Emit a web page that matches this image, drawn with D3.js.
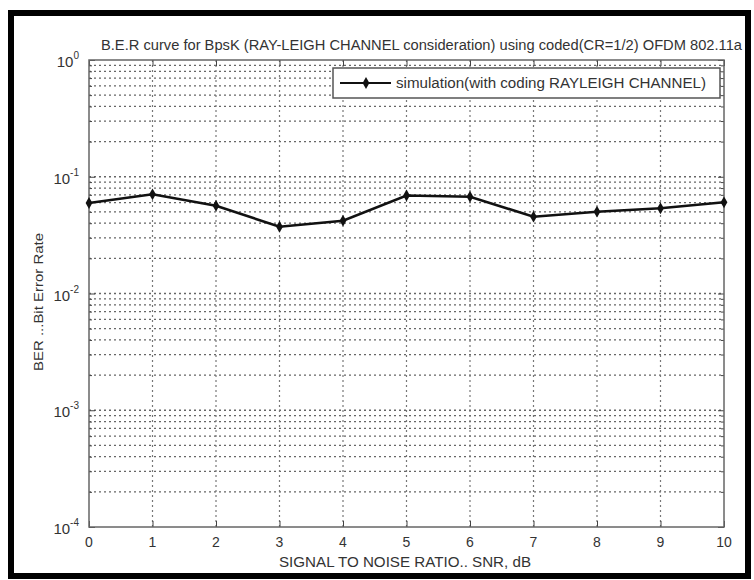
<!DOCTYPE html>
<html>
<head>
<meta charset="utf-8">
<script src="https://cdn.jsdelivr.net/npm/d3@7"></script>
<style>
  body { margin: 0; background: #fff; }
  text { font-family: "Liberation Sans", Arial, sans-serif; fill: #333; }
</style>
</head>
<body>
<svg id="chart" width="754" height="580"></svg>
<script>
// values
const snr = [0, 1, 2, 3, 4, 5, 6, 7, 8, 9, 10]
const ber = [0.0596, 0.0707, 0.0565, 0.0373, 0.0420, 0.0691, 0.0675, 0.0455, 0.0502, 0.0537, 0.0604]
const xTicks = [0, 1, 2, 3, 4, 5, 6, 7, 8, 9, 10]
const yDecades = [0, -1, -2, -3, -4]

const titleText = "B.E.R curve for BpsK (RAY-LEIGH CHANNEL consideration) using coded(CR=1/2) OFDM 802.11a"
const legendText = "simulation(with coding RAYLEIGH CHANNEL)"
const xLabel = "SIGNAL TO NOISE RATIO.. SNR, dB"
const yLabel = "BER ...Bit Error Rate"

const plot = {left: 89, right: 724, top: 60, bottom: 527}

let svg = d3.select("#chart")

// black outer frame
svg.append("rect")
   .attr("x", 11).attr("y", 13)
   .attr("width", 737).attr("height", 563)
   .attr("fill", "none")
   .attr("stroke", "#000")
   .attr("stroke-width", 6)

let x = d3.scaleLinear().domain([0, 10]).range([plot.left, plot.right])
let y = d3.scaleLog().domain([1e-4, 1]).range([plot.bottom, plot.top])

// minor + major values for the log grid
let minorVals = []
for (let e = -4; e < 0; e++) {
    for (let m = 2; m <= 9; m++) minorVals.push(m * Math.pow(10, e))
}
let majorVals = yDecades.map(e => Math.pow(10, e))

let grid = svg.append("g").attr("class", "grid")

grid.selectAll("line.h")
    .data(minorVals.concat(majorVals.slice(1, -1)))
    .enter()
    .append("line")
    .attr("x1", plot.left).attr("x2", plot.right)
    .attr("y1", d => y(d)).attr("y2", d => y(d))
    .attr("stroke", "#666")
    .attr("stroke-width", 1.3)
    .attr("stroke-dasharray", "2,3")

grid.selectAll("line.v")
    .data(xTicks.slice(1, -1))
    .enter()
    .append("line")
    .attr("x1", d => x(d)).attr("x2", d => x(d))
    .attr("y1", plot.top).attr("y2", plot.bottom)
    .attr("stroke", "#777")
    .attr("stroke-width", 1.2)
    .attr("stroke-dasharray", "2,3")

// axes with inward ticks
let axes = svg.append("g")
axes.append("g")
    .attr("transform", "translate(0," + plot.bottom + ")")
    .call(d3.axisBottom(x).tickValues(xTicks).tickSize(-6).tickFormat(""))
axes.append("g")
    .attr("transform", "translate(0," + plot.top + ")")
    .call(d3.axisTop(x).tickValues(xTicks).tickSize(-6).tickFormat(""))
axes.append("g")
    .attr("transform", "translate(" + plot.left + ",0)")
    .call(d3.axisLeft(y).tickValues(majorVals).tickSize(-6).tickFormat(""))
axes.append("g")
    .attr("transform", "translate(" + plot.left + ",0)")
    .call(d3.axisLeft(y).tickValues(minorVals).tickSize(-3).tickFormat(""))
axes.append("g")
    .attr("transform", "translate(" + plot.right + ",0)")
    .call(d3.axisRight(y).tickValues(majorVals).tickSize(-6).tickFormat(""))
axes.append("g")
    .attr("transform", "translate(" + plot.right + ",0)")
    .call(d3.axisRight(y).tickValues(minorVals).tickSize(-3).tickFormat(""))
axes.selectAll(".domain").remove()
axes.selectAll("line").attr("stroke", "#444")

svg.append("rect")
   .attr("x", plot.left).attr("y", plot.top)
   .attr("width", plot.right - plot.left).attr("height", plot.bottom - plot.top)
   .attr("fill", "none")
   .attr("stroke", "#666")
   .attr("stroke-width", 1.5)

// tick labels
svg.append("g")
   .selectAll("text")
   .data(xTicks)
   .enter()
   .append("text")
   .attr("x", d => x(d))
   .attr("y", plot.bottom + 20)
   .attr("text-anchor", "middle")
   .attr("font-size", 14)
   .text(d => d)

let yl = svg.append("g")
   .selectAll("text")
   .data(yDecades)
   .enter()
   .append("text")
   .attr("x", plot.left - 10)
   .attr("y", d => y(Math.pow(10, d)) + 7)
   .attr("text-anchor", "end")
   .attr("font-size", 15)
yl.append("tspan").text("10")
yl.append("tspan").attr("dy", -8).attr("font-size", 10).text(d => d)

// data line
svg.append("path")
   .datum(snr.map((s, i) => [s, ber[i]]))
   .attr("fill", "none")
   .attr("stroke", "#111")
   .attr("stroke-width", 2.6)
   .attr("d", d3.line().x(d => x(d[0])).y(d => y(d[1])))

let diamond = d3.symbol().type(d3.symbolDiamond).size(40)
svg.append("g")
   .selectAll("path")
   .data(snr.map((s, i) => [s, ber[i]]))
   .enter()
   .append("path")
   .attr("transform", d => "translate(" + x(d[0]) + "," + y(d[1]) + ")")
   .attr("d", diamond)
   .attr("fill", "#111")

// legend
let lg = svg.append("g")
lg.append("rect")
  .attr("x", 333).attr("y", 68)
  .attr("width", 387).attr("height", 30)
  .attr("fill", "#fff")
  .attr("stroke", "#555")
  .attr("stroke-width", 1.5)
lg.append("line")
  .attr("x1", 340).attr("x2", 391)
  .attr("y1", 83).attr("y2", 83)
  .attr("stroke", "#111").attr("stroke-width", 2)
lg.append("path")
  .attr("transform", "translate(366,83)")
  .attr("d", diamond)
  .attr("fill", "#111")
lg.append("text")
  .attr("x", 396).attr("y", 88)
  .attr("font-size", 14)
  .attr("textLength", 310)
  .attr("lengthAdjust", "spacingAndGlyphs")
  .text(legendText)

// title and axis labels
svg.append("text")
   .attr("x", 101).attr("y", 50)
   .attr("font-size", 14)
   .attr("textLength", 641)
   .attr("lengthAdjust", "spacingAndGlyphs")
   .text(titleText)

svg.append("text")
   .attr("x", 405).attr("y", 567)
   .attr("text-anchor", "middle")
   .attr("font-size", 14)
   .attr("textLength", 252)
   .attr("lengthAdjust", "spacingAndGlyphs")
   .text(xLabel)

svg.append("text")
   .attr("transform", "translate(43,302) rotate(-90)")
   .attr("text-anchor", "middle")
   .attr("font-size", 13)
   .attr("textLength", 138)
   .attr("lengthAdjust", "spacingAndGlyphs")
   .text(yLabel)
</script>
</body>
</html>
